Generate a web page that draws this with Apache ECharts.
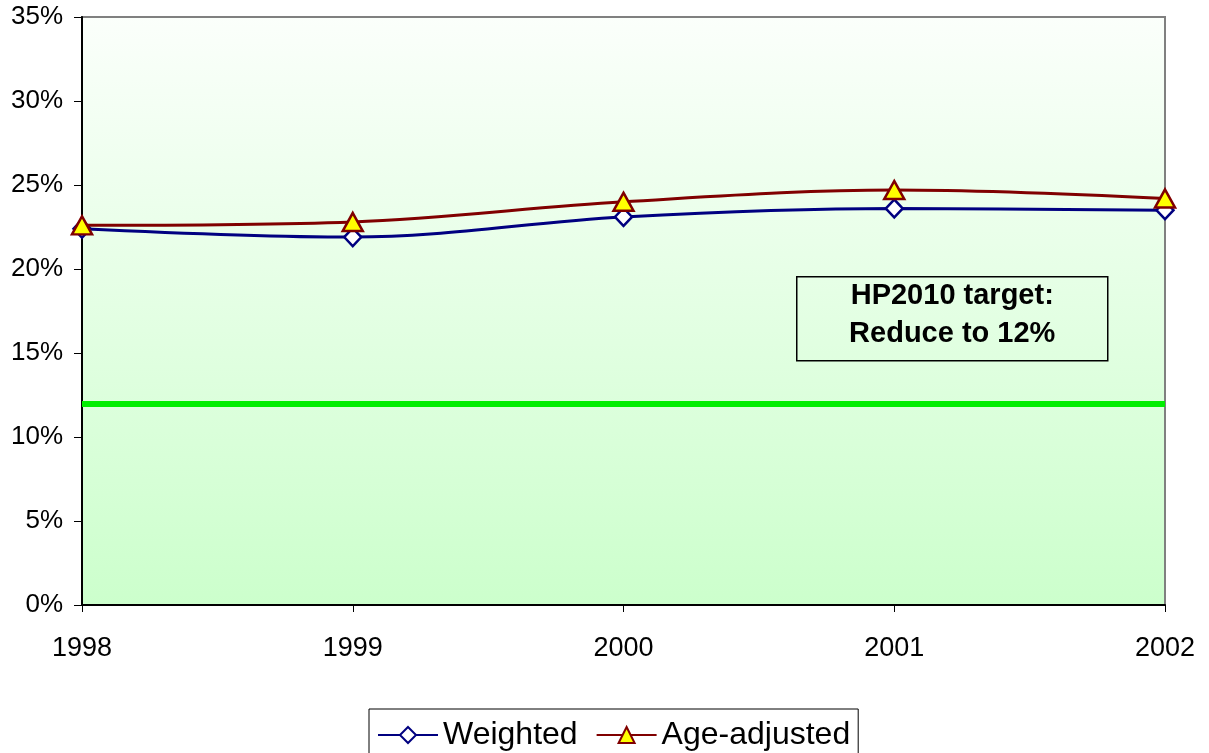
<!DOCTYPE html>
<html>
<head>
<meta charset="utf-8">
<script src="https://cdn.jsdelivr.net/npm/echarts@6/dist/echarts.min.js"></script>
<style>
html,body{margin:0;padding:0;background:#fff;}
#chart{width:1209px;height:753px;}
</style>
</head>
<body>
<div id="chart"></div>
<script>
const years = ['1998', '1999', '2000', '2001', '2002'];
const weighted = [22.4, 21.9, 23.1, 23.6, 23.5];
const ageAdjusted = [22.6, 22.8, 24.0, 24.7, 24.2];
const targetValue = 12;
const targetText = ['HP2010 target:', 'Reduce to 12%'];

const FONT = '"Liberation Sans", Arial, sans-serif';
const chart = echarts.init(document.getElementById('chart'));
chart.setOption({
  animation: false,
  backgroundColor: '#ffffff',
  textStyle: { fontFamily: FONT },
  grid: {
    left: 82, right: 44, top: 17, bottom: 148,
    show: true,
    borderColor: '#808080',
    borderWidth: 2,
    backgroundColor: new echarts.graphic.LinearGradient(0, 0, 0, 1, [
      { offset: 0, color: '#fbfffb' },
      { offset: 1, color: '#ccffcc' }
    ])
  },
  legend: {
    top: 709,
    left: 369,
    padding: [10, 8, 12, 8],
    borderColor: '#000',
    borderWidth: 1,
    itemWidth: 60,
    itemHeight: 20,
    itemGap: 18,
    textStyle: { fontSize: 32, color: '#000', fontFamily: FONT },
    data: ['Weighted', 'Age-adjusted']
  },
  xAxis: {
    type: 'category',
    data: years,
    boundaryGap: false,
    axisLine: { lineStyle: { color: '#000', width: 2 } },
    axisTick: { show: true, length: 7, lineStyle: { color: '#000', width: 1 } },
    axisLabel: { fontSize: 27, color: '#000', margin: 30, fontFamily: FONT },
    splitLine: { show: false }
  },
  yAxis: {
    type: 'value',
    min: 0, max: 35, interval: 5,
    axisLine: { show: true, lineStyle: { color: '#000', width: 2 } },
    axisTick: { show: true, length: 8, lineStyle: { color: '#000', width: 1 } },
    axisLabel: { fontSize: 26, color: '#000', margin: 19, formatter: '{value}%', fontFamily: FONT },
    splitLine: { show: false }
  },
  series: [
    {
      name: 'Weighted',
      type: 'line',
      data: weighted,
      smooth: 0.35,
      symbol: 'diamond',
      symbolSize: [17, 18],
      z: 3,
      lineStyle: { color: '#000080', width: 3 },
      itemStyle: { color: '#ffffff', borderColor: '#000080', borderWidth: 2.5 },
      markLine: {
        silent: true,
        symbol: 'none',
        label: { show: false },
        lineStyle: { color: '#00ee00', width: 6, type: 'solid' },
        data: [{ yAxis: targetValue }]
      }
    },
    {
      name: 'Age-adjusted',
      type: 'line',
      data: ageAdjusted,
      smooth: 0.35,
      symbol: 'triangle',
      symbolSize: [20, 18],
      z: 4,
      lineStyle: { color: '#800000', width: 3 },
      itemStyle: { color: '#ffff00', borderColor: '#800000', borderWidth: 2.5 }
    }
  ],
  graphic: [
    {
      type: 'group',
      left: 796, top: 276,
      children: [
        { type: 'rect', shape: { x: 0, y: 0, width: 311, height: 84 },
          style: { fill: 'rgba(0,0,0,0)', stroke: '#000', lineWidth: 1.5 } },
        { type: 'text', x: 155.5, y: 19,
          style: { text: targetText[0], font: 'bold 29px "Liberation Sans", Arial, sans-serif', fill: '#000',
                   align: 'center', verticalAlign: 'middle' } },
        { type: 'text', x: 155.5, y: 57,
          style: { text: targetText[1], font: 'bold 29px "Liberation Sans", Arial, sans-serif', fill: '#000',
                   align: 'center', verticalAlign: 'middle' } }
      ]
    }
  ]
});
</script>
</body>
</html>
